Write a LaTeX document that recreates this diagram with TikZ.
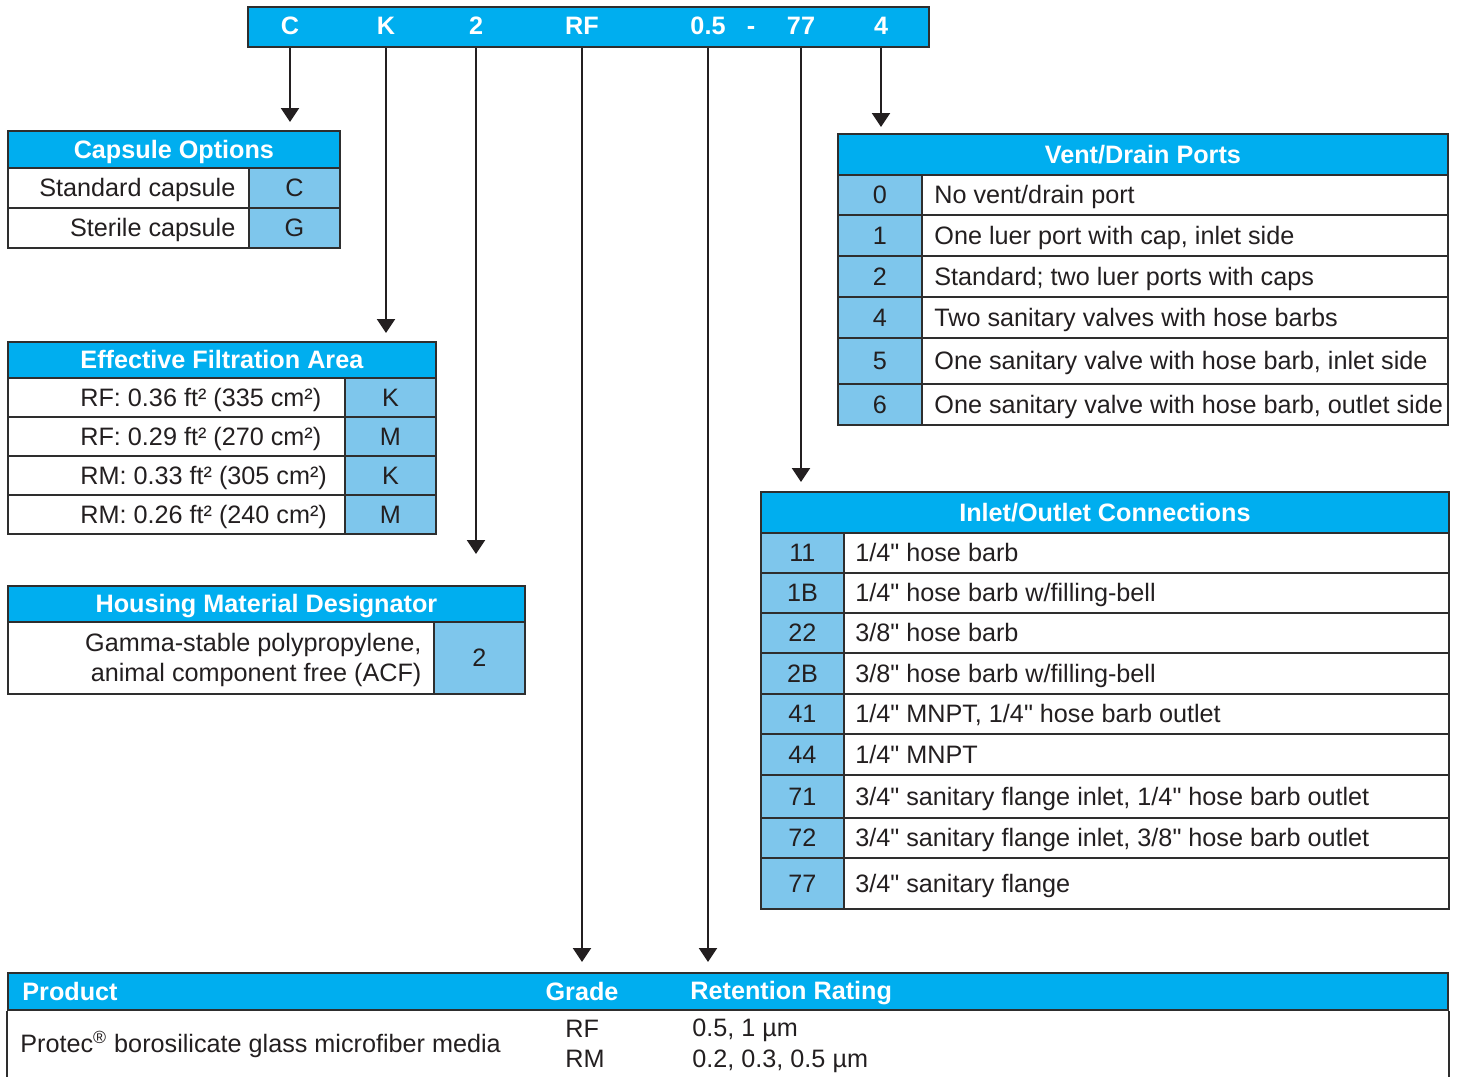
\documentclass[tikz,border=0pt]{standalone}
\usepackage{fontspec}
\setmainfont{Liberation Sans}[Ligatures=TeXOff]
\usetikzlibrary{arrows.meta}
\definecolor{hdrblue}{HTML}{00AEEF}
\definecolor{cellblue}{HTML}{7EC6EC}
\definecolor{rulegray}{HTML}{2E2E2E}
\definecolor{inkdark}{HTML}{231F20}

\begin{document}
\begin{tikzpicture}[x=0.5pt,y=-0.5pt,
    every node/.style={font=\fontsize{12.6}{15}\selectfont, text=inkdark},
    lbl/.style={inner sep=0pt, text height=9pt, text depth=0.4pt},
    hdrtxt/.style={text=white, font=\fontsize{12.6}{15}\selectfont\bfseries},
    hdr/.style={draw=rulegray, line width=0.9pt, fill=hdrblue, anchor=north west,
                inner sep=0pt, text height=9pt, text depth=0.4pt, hdrtxt},
    codecell/.style={draw=rulegray, line width=0.9pt, fill=cellblue, anchor=north west,
                inner sep=0pt, text height=9pt, text depth=0.4pt},
    desccell/.style={draw=rulegray, line width=0.9pt, fill=white, anchor=north west, inner sep=0pt},
    pick/.style={line width=1.1pt, draw=inkdark, -{Triangle[length=7pt,width=9pt]}}]

  \useasboundingbox (0,0) rectangle (1459,1076);

  % model number bar
  \node[hdr, minimum width=340.5pt, minimum height=20pt] (bar) at (247,6) {};
  \foreach \x/\t/\n in {290/C/cC, 386/K/cK, 476/2/c2, 582/RF/cRF, 708/0.5/cG, 751/-/cD, 801/77/cIO, 881/4/cV}
    \node[lbl, hdrtxt] (\n) at (\x,26) {\t};

  % capsule options
  \node[hdr, minimum width=166pt, minimum height=18.5pt] (capH) at (7,130) {Capsule Options};
  \foreach \y/\d/\c [count=\i] in {167/Standard capsule/C, 207/Sterile capsule/G} {
    \node[desccell, minimum width=120.5pt, minimum height=20pt] (capD\i) at (7,\y) {};
    \node[codecell, minimum width=45.5pt, minimum height=20pt] (capC\i) at (248,\y) {\c};
    \node[lbl, anchor=east] (capT\i) at ([xshift=-7pt]capD\i.east) {\d};
  }

  % effective filtration area
  \node[hdr, minimum width=214pt, minimum height=18pt] (efaH) at (7,341) {Effective Filtration Area};
  \foreach \y/\d/\c [count=\i] in {377/RF: 0.36 ft² (335 cm²)/K, 416/RF: 0.29 ft² (270 cm²)/M,
                                   455/RM: 0.33 ft² (305 cm²)/K, 494/RM: 0.26 ft² (240 cm²)/M} {
    \node[desccell, minimum width=168.5pt, minimum height=19.5pt] (efaD\i) at (7,\y) {};
    \node[codecell, minimum width=45.5pt, minimum height=19.5pt] (efaC\i) at (344,\y) {\c};
    \node[lbl, anchor=west] (efaT\i) at ([xshift=36.5pt]efaD\i.west) {\d};
  }

  % housing material
  \node[hdr, minimum width=258.5pt, minimum height=18pt] (hmH) at (7,585) {Housing Material Designator};
  \node[desccell, minimum width=213pt, minimum height=36pt] (hmD) at (7,621) {};
  \node[codecell, minimum width=45.5pt, minimum height=36pt] (hmC) at (433,621) {2};
  \node[inner sep=0pt, anchor=east, align=right] (hmT) at ([xshift=-6.5pt,yshift=-1pt]hmD.east)
       {Gamma-stable polypropylene,\\animal component free (ACF)};

  % vent/drain ports
  \node[hdr, minimum width=305pt, minimum height=20.5pt] (vdH) at (837,133) {Vent/Drain Ports};
  \foreach \y/\h/\c/\d [count=\i] in {174/40/0/{No vent/drain port},
      214/41/1/{One luer port with cap, inlet side}, 255/41/2/{Standard; two luer ports with caps},
      296/41/4/{Two sanitary valves with hose barbs}, 337/46/5/{One sanitary valve with hose barb, inlet side},
      383/41/6/{One sanitary valve with hose barb, outlet side}} {
    \node[codecell, minimum width=42pt, minimum height=\h*0.5pt] (vdC\i) at (837,\y) {\c};
    \node[desccell, minimum width=263pt, minimum height=\h*0.5pt] (vdD\i) at (921,\y) {};
    \node[lbl, anchor=west] (vdT\i) at ([xshift=6.5pt]vdD\i.west) {\d};
  }

  % inlet/outlet connections
  \node[hdr, minimum width=344pt, minimum height=20.5pt] (ioH) at (760,491) {Inlet/Outlet Connections};
  \foreach \y/\h/\c/\d [count=\i] in {532/40/11/{1/4" hose barb}, 572/40/1B/{1/4" hose barb w/filling-bell},
      612/40/22/{3/8" hose barb}, 652/41/2B/{3/8" hose barb w/filling-bell},
      693/40/41/{1/4" MNPT, 1/4" hose barb outlet}, 733/41/44/{1/4" MNPT},
      774/43/71/{3/4" sanitary flange inlet, 1/4" hose barb outlet},
      817/40/72/{3/4" sanitary flange inlet, 3/8" hose barb outlet}, 857/51/77/{3/4" sanitary flange}} {
    \node[codecell, minimum width=41.5pt, minimum height=\h*0.5pt] (ioC\i) at (760,\y) {\c};
    \node[desccell, minimum width=302.5pt, minimum height=\h*0.5pt] (ioD\i) at (843,\y) {};
    \node[lbl, anchor=west] (ioT\i) at ([xshift=6pt]ioD\i.west) {\d};
  }

  % product table
  \node[hdr, minimum width=720pt, minimum height=18.5pt] (prH) at (7,972) {};
  \draw[rulegray, line width=0.9pt] (prH.south west) -- ++(0,90) (prH.south east) -- ++(0,90);
  \node[lbl, hdrtxt, anchor=west] (prP) at ([xshift=7.5pt]prH.west) {Product};
  \node[lbl, hdrtxt] (prG) at (cRF |- prH) {Grade};
  \node[lbl, hdrtxt, anchor=west] (prR) at (690,990.5) {Retention Rating};
  \node[lbl, anchor=west] (prM) at (20,1044) {Protec\textsuperscript{®} borosilicate glass microfiber media};
  \node[lbl, anchor=west] (prRF) at (565,1029) {RF};
  \node[lbl, anchor=west] (prRM) at (565,1059) {RM};
  \node[lbl, anchor=west] (prRF5) at (692,1028) {0.5, 1 µm};
  \node[lbl, anchor=west] (prRM5) at (692,1059) {0.2, 0.3, 0.5 µm};

  % arrows from the code letters
  \foreach \n/\t/\s in {cC/capH/4pt, cK/efaH/4pt, c2/hmH/15.5pt, cRF/prH/5pt, cG/prH/5pt, cIO/ioH/4.5pt, cV/vdH/3pt}
    \draw[pick, shorten >=\s] (\n |- bar.south) -- (\n |- \t.north);

\end{tikzpicture}
\end{document}
